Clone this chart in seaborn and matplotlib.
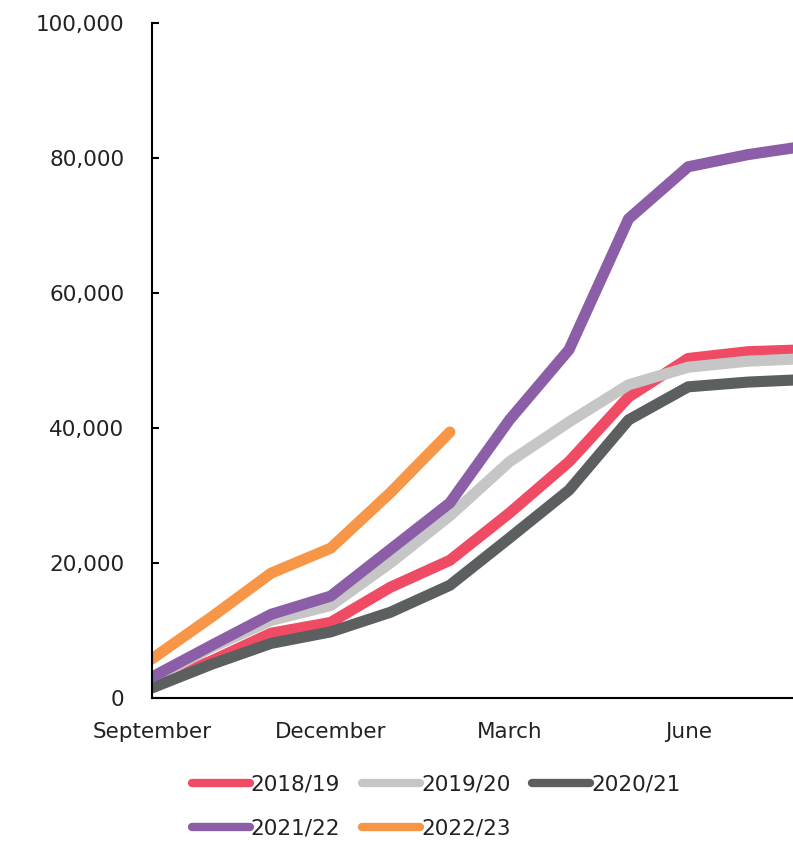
import numpy as np
import pandas as pd
import matplotlib
matplotlib.use("Agg")
import matplotlib.pyplot as plt
import seaborn as sns

# Cumulative values by month (September to August)
months = ["September", "October", "November", "December", "January", "February",
          "March", "April", "May", "June", "July", "August"]
seasons = ["2018/19", "2019/20", "2020/21", "2021/22", "2022/23"]

s2018 = [1800, 5500, 9600, 11200, 16400, 20400, 27400, 35000, 44600, 50300, 51300, 51600]
s2019 = [2800, 7500, 11500, 13700, 20000, 27000, 35000, 40900, 46400, 49000, 49900, 50300]
s2020 = [1500, 5000, 8100, 9800, 12700, 16700, 23700, 30800, 41200, 46100, 46800, 47200]
s2021 = [3100, 7800, 12400, 15100, 22000, 28900, 41200, 51600, 71000, 78700, 80500, 81800]
s2022 = [5800, 12000, 18500, 22200, 30400, 39400, np.nan, np.nan, np.nan, np.nan, np.nan, np.nan]

tick_months = ["September", "December", "March", "June"]

colors = ["#EF4B64", "#C6C6C6", "#5B5F5F", "#8C5EA8", "#F79646"]

rows = []
for name, vals in zip(seasons, [s2018, s2019, s2020, s2021, s2022]):
    for i, v in enumerate(vals):
        rows.append({"month": i, "season": name, "value": v})
df = pd.DataFrame(rows).dropna()

sns.set_style("white")
plt.rcParams["font.family"] = ["DejaVu Sans"]
plt.rcParams["text.color"] = "#222222"

fig = plt.figure(figsize=(7.93, 8.43), dpi=100)
ax = fig.add_axes([0.1917, 0.172, 0.8083, 0.8007])

sns.lineplot(data=df, x="month", y="value", hue="season", hue_order=seasons,
             palette=colors, linewidth=8, sort=False, ax=ax,
             solid_capstyle="round", legend=True)

ax.set_xlim(0, 10.76)
ax.set_ylim(0, 100000)
ax.set_xticks([months.index(m) for m in tick_months])
ax.set_xticklabels(tick_months)
ax.set_yticks(range(0, 100001, 20000))
ax.set_yticklabels([f"{v:,}" for v in range(0, 100001, 20000)])
ax.set_xlabel("")
ax.set_ylabel("")

for side in ["top", "right"]:
    ax.spines[side].set_visible(False)
for side in ["left", "bottom"]:
    ax.spines[side].set_color("black")
    ax.spines[side].set_linewidth(1.5)

ax.tick_params(axis="y", direction="in", length=5, width=1.5, color="black",
               labelsize=15.5, pad=20, left=True, labelcolor="#222222")
ax.tick_params(axis="x", length=0, labelsize=15.5, pad=17, labelcolor="#222222")

handles, labels = ax.get_legend_handles_labels()
ax.get_legend().remove()
order = [0, 3, 1, 4, 2]
leg = fig.legend([handles[i] for i in order], [labels[i] for i in order],
                 ncol=3, loc="center", bbox_to_anchor=(0.55, 0.043),
                 frameon=False, fontsize=15.5, handlelength=2.7,
                 handletextpad=0.05, columnspacing=1.0, labelspacing=1.1)
for line in leg.get_lines():
    line.set_linewidth(6)
    line.set_solid_capstyle("round")

fig.savefig("out.png", dpi=100)
